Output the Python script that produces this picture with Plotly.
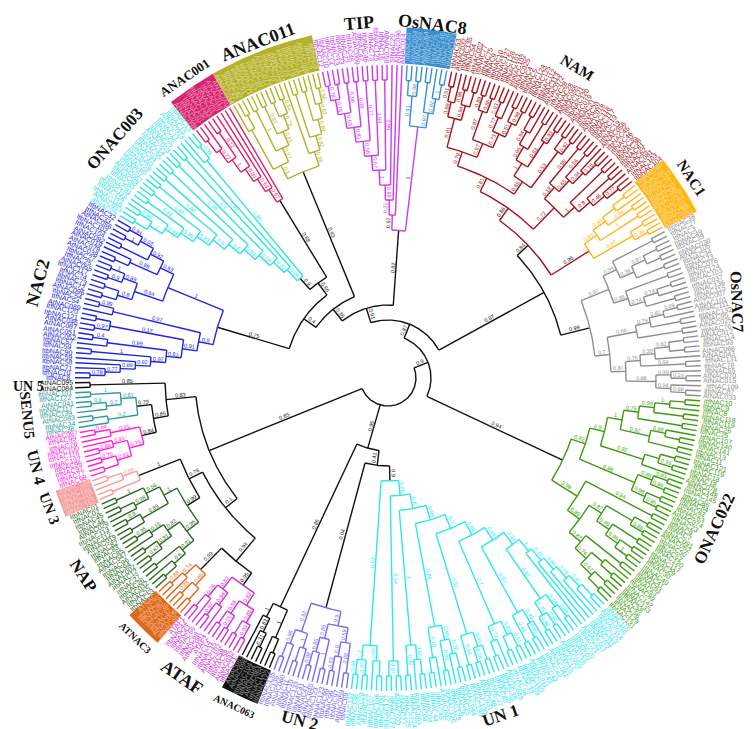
import math
from collections import defaultdict

import plotly.graph_objects as go

# ----------------------------------------------------------------
# DATA: clade colours and subtrees
# node = [support, child, child, ...]; a leaf is its name string
# ----------------------------------------------------------------

COLORS = {
    "UN 5": "#111111", "SENU5": "#2f9a9a", "UN 4": "#ff22dd", "UN 3": "#f59c9c",
    "NAP": "#2b6b1f", "ATNAC3": "#e0661a", "ATAF": "#d22fd2", "ANAC063": "#111111",
    "UN 2": "#7a6cf2", "UN 1": "#2ee8ee", "ONAC022": "#3c9c10", "OsNAC7": "#8f8f8f",
    "NAC1": "#ffb619", "NAM": "#a3151c", "OsNAC8": "#3a8fd0", "TIP": "#c93bf5",
    "ANAC011": "#b4b22a", "ANAC001": "#d8236f", "ONAC003": "#2fe3e3", "NAC2": "#2024e0",
}

UN5 = [0.85, "AtNAC095", "AtNAC084"]
SENU5 = [0.79, [0.81, [1, "ItbNAC101", "ItfNAC122"], [0.7, [0.9, "AtNAC041", "ItbNAC117"], "ItfNAC139"]],
         [0.2, [None, "AtNAC083", "ItbNAC34"], "ItfNAC38"]]
UN4 = [0.84, [0.91, [0.94, "AtNAC097", "ItfNAC99"], "ItfNAC78"],
       [0.75, [0.91, "ItfNAC100", [0.88, "ItfNAC116", "ItfNAC137"]],
        [0.91, [0.75, "ItfNAC96", "ItfNAC97"], [None, "ItfNAC77", "ItfNAC98"]]]]
UN3 = [1, [0.88, [None, "AtNAC104", "ItfNAC102"], "ItfNAC106"], [None, "ItfNAC105", "ItfNAC110"]]
NAP = [0.99,
       [1, [0.56, [1, "ItbNAC01", "ItfNAC02"], [0.98, [None, "ItbNAC45", "ItfNAC44"], "AtNAC029"]],
        [0.89, [0.9, "ItbNAC113", "ItfNAC112"], [None, "AtNAC019", "ItbNAC82"]]],
       [0.96, [0.82, [0.15, [0.95, "ItfNAC83", "ItbNAC85"], "AtNAC047"],
               [0.91, [None, "ItbNAC96", "ItfNAC94"], [0.67, "AtNAC002", "ItbNAC12"]]],
        [0.91, [None, "ItfNAC27", "ItbNAC26"], [0.6, "AtNAC032", [None, "ItfNAC55", "ItbNAC53"]]]]]
ATNAC3 = [0.99, [0.74, [0.88, "ATNAC3", "ItbNAC79"], "ItfNAC80"],
          [0.69, [0.88, "ItbNAC36", "ItfNAC37"], [None, "AtNAC006", "ItfNAC65"]]]
ATAF = [0.95, [0.82, [0.76, [None, "ATAF1", "ItbNAC44"], "ItfNAC43"], [0.84, [0.97, "ItbNAC66", "ItfNAC68"], "AtNAC081"]],
        [0.83, [0.56, [None, "ATAF2", "ItfNAC14"], [0.25, "ItbNAC15", "AtNAC102"]],
         [0.86, [None, "ItfNAC59", "ItbNAC58"], [0.93, "AtNAC032", "ItfNAC71"]]]]
ANAC063 = [0.85, [1, "ANAC063", [0.83, "AtNAC096", [0.31, "ItbNAC104", "ItfNAC104"]]],
           [1, "AtNAC061", [None, "ItfNAC120", "ItbNAC122"]]]
UN2 = [0.04, [0.92, [0.98, [None, "ItbNAC135", "ItfNAC136"], "AtNAC060"], [1, [None, "ItfNAC11", "ItbNAC10"], "ItfNAC133"]],
       [0.9, [0.85, [0.85, [0.98, "ItbNAC41", "ItfNAC41"], "AtNAC040"], [1, "ItfNAC123", "ItbNAC123"]],
        [0.59, [0.9, [0.93, "ItbNAC99", "ItfNAC99"], "ItbNAC97"], [0.88, "AtNAC059", "ItfNAC69"]]]]

UN1_A = [0.53, [1, [0.69, "ItbNAC137", "ItfNAC138"], [0.97, "AtNAC028", "ItbNAC24"]],
         [0.65, "ItfNAC107", [None, "ItbNAC106", "ItfNAC109"]]]
UN1_B = [0.54, [0.97, "ItbNAC127", "ItfNAC127"], [None, "AtNAC022", "ItbNAC22"]]
UN1_C = [1, [0.96, "ItfNAC125", "ItbNAC124"], [0.66, "AtNAC004", [None, "ItfNAC04", "ItbNAC04"]]]
UN1_D = [0.86, [0.78, [None, "ItbNAC44", "ItfNAC45"], "AtNAC042"],
         [0.99, [0.88, "ItbNAC126", "ItfNAC128"], [0.76, "ItfNAC26", [None, "ItbNAC25", "AtNAC044"]]]]
UN1_E = [0.97, [0.64, "ItbNAC130", "ItfNAC130"], [0.41, [0.36, "AtNAC031", "ItfNAC48"], [None, "ItbNAC47", "ItfNAC49"]]]
UN1_F = [0.7, [0.73, [None, "ItbNAC35", "ItfNAC36"], "AtNAC048"],
         [0.92, [None, "ItfNAC34", "ItbNAC33"], [0.61, "ItbNAC109", "ItfNAC110"]]]
UN1_G = [0.97, [0.45, "AtNAC011", "ItfNAC43"], [0.49, [0.85, "ItbNAC42", "ItfNAC42"], "AtNAC042"]]
UN1_H = [0.97, [0.75, [0.66, "ItbNAC16", "ItfNAC17"], [0.97, "AtNAC099", "ItbNAC18"]],
         [0.78, "ItfNAC19", [0.88, "ItbNAC20", "ItfNAC21"]]]
UN1_I = [1, "AtNAC057", [0.75, "ItfNAC112", [0.86, "ItbNAC111", [0.73, "ItfNAC113",
                                                                  [0.97, "ItbNAC114", [None, "AtNAC036", "ItfNAC115"]]]]]]
UN1 = [0.9, UN1_A, [0.76, UN1_B, [0.8, UN1_C, [0.99, UN1_D, [0.7, UN1_E, [0.98, UN1_F,
                                                                           [0.49, UN1_G, [0.99, UN1_H, UN1_I]]]]]]]]

G22_LOW = [0.98,
           [0.89,
            [0.82, [0.74, [0.67, [None, "ItbNAC131", "ItfNAC129"], [None, "ItbNAC56", "ItfNAC58"]],
                    [None, [None, "ItbNAC133", "ItfNAC142"], "ItbNAC89"]], [None, "ItfNAC63", "ItbNAC61"]],
            [0.87, [0.48, [0.96, [1, "ItfNAC41", "ItbNAC40"], [None, "ItfNAC30", "ItbNAC29"]], [None, "ItbNAC117", "ItfNAC120"]],
             [None, [0.88, "ItfNAC52", "ItbNAC50"], [None, "AtNAC062", "AtNAC091"]]]],
           [0.84, "ItbNAC7", "ItfNAC9"]]
G22_UP = [0.92,
          [0.88, [0.98, [0.95, "ItfNAC23", "AtNAC074"], [None, "ItbNAC63", "ItfNAC62"]],
           [0.88, [0.95, "ItbNAC84", "ItfNAC86"], [0.83, "ItbNAC145", "ItfNAC148"]]],
          [0.9, [0.82, "AtNAC078", [None, [0.95, "ItfNAC18", "ItbNAC18"], [None, "ItfNAC119", "ItbNAC121"]]],
           [1, [0.92, [None, "ItfNAC11", "ItbNAC13"], [0.89, [None, "ItfNAC141", "ItbNAC140"], "ItfNAC107"]],
            [0.75, [None, "ItfNAC25", "ItbNAC26"],
             [0.99, [None, "ItfNAC119", "ItbNAC118"], [1, "ItfNAC8", [None, "ItbNAC9", "ItfNAC10"]]]]]]]
ONAC022 = [0.94, G22_LOW, G22_UP]

OS7_B1 = [0.88, [0.94, [0.88, "AtNAC033", "ItbNAC87"], "ItfNAC109"], [0.99, [0.29, "AtNAC015", "AtNAC070"], "ItbNAC65"]]
OS7_B2 = [0.75, [0.94, "ItbNAC78", "ItfNAC131"],
          [0.39, "AtNAC043", [0.82, [None, "AtNAC066", "ItbNAC93"], [None, "ItfNAC114", "AtNAC012"]]]]
OS7_B3 = [0.66, [None, "ItbNAC76", "AtNAC025"],
          [0.79, [None, "ItfNAC95", "ItbNAC132"], [0.81, "ItfNAC111", [0.69, "AtNAC101", "AtNAC007"]]]]
OS7_B4 = [0.86, [0.74, [None, "ItfNAC115", "ItfNAC136"], [0.74, "ItfNAC037", [None, "ItbNAC103", "ItfNAC124"]]],
          [None, "ItfNAC076", "ItbNAC23"]]
OS7_B5 = [0.99, [0.39, [None, "ItbNAC34", "AtNAC105"], [0.87, [None, "ItbNAC030", "ItbNAC39"], [None, "ItbNAC49", "ItfNAC3"]]],
          [None, "ItfNAC27", "ItbNAC38"]]
OSNAC7 = [0.99, [0.7, [0.87, OS7_B1, OS7_B2], OS7_B3], [0.97, OS7_B4, OS7_B5]]

NAC1 = [0.96, [0.87, [0.98, "AtNAC031", "ItbNAC88"], [None, "ItfNAC93", "ItbNAC84"]],
        [0.81, [1, "AtNAC029", "ItfNAC56"],
         [0.86, [0.94, "ItbNAC55", "ItfNAC74"], [None, "ItbNAC147", [None, "ItfNAC98", "ItbNAC40"]]]]]

NAM_LOW = [0.72, [1, [0.8, [0.46, [0.77, "ItbNAC104", "ItfNAC103"], "AtNAC081"], [None, "ItfNAC62", "ItbNAC61"]],
                  [None, "ItbNAC36", "ItfNAC35"]],
           [0.18, [0.65, [0.94, [0.16, "ItfNAC46", "ItbNAC45"], "AtNAC056"], [0.56, "ItfNAC19", "ItbNAC19"]],
            [0.88, "ItbNAC117", "ItfNAC118"]]]
NAM_MID = [0.85, [0.53, [0.97, "AtNAC018", "ItbNAC20"], [None, "ItfNAC21", "AtNAC019"]],
           [1, [0.83, [0.93, "ItbNAC120", "ItfNAC121"], "AtNAC055"],
            [0.95, [None, "ItbNAC28", "ItfNAC28"], [0.94, "AtNAC072", [None, "ItfNAC113", "ItbNAC112"]]]]]
NAM_TOP = [0.79, [0.97, [0.73, [0.51, [0.98, "ItbNAC125", "ItfNAC124"], [None, "ItbNAC5", "ItfNAC4"]],
                         [0.77, "AtNAC025", [0.93, "ItbNAC102", "ItfNAC101"]]],
                  [0.97, [0.86, "ItfNAC126", "ItbNAC127"], [0.89, "ItbNAC10", "ItfNAC9"]]],
           [0.81, [0.94, [None, "ItfNAC75", "ItbNAC77"], [0.98, "AtNAC002", "ItfNAC54"]],
            [0.88, "ItbNAC135", [0.51, "AtNAC032", "ItbNAC53"]]]]
NAM = [0.86, NAM_LOW, [0.81, NAM_MID, NAM_TOP]]

OSNAC8 = [1, [0.97, [0.92, [1, "ItbNAC127", "ItfNAC126"], "ItfNAC146"], [None, "ItbNAC75", "ItfNAC75"]],
          [0.91, [0.98, "AtNAC064", "ItbNAC69"], [None, "AtNAC004", "ItfNAC40"]]]

TIP = [0.97, "ANAC014", [0.21, "AtNAC096", [0.88, "SlNAC29", [1, [0.99, "AtNAC058", "ItfNAC16"],
       [0.57, [0.94, "ItbNAC125", "ItfNAC73"], [0.58, [0.77, "ItbNAC46", "ItfNAC47"],
        [0.81, [0.08, "AtNAC009", "ItfNAC48"], [0.63, [0.96, "ItfNAC22", "ItbNAC23"],
         [0.76, [None, "ItbNAC13", "ItfNAC14"], [0.78, "ItbNAC10", "ItfNAC12"]]]]]]]]]]

ANAC011 = [0.93,
           [0.98, [0.82, [0.89, [0.83, [0.96, "ItbNAC6", "ItfNAC6"], "AtNAC089"], [None, "ItfNAC71", "ItbNAC70"]],
                   [None, "ItbNAC19", "ItfNAC20"]], "ANAC011"],
           [0.1, [0.07, [0.81, [0.75, [0.84, "ItbNAC73", "ItfNAC72"], [None, "AtNAC077", "ItbNAC31"]],
                         [0.97, "ItfNAC32", "ItbNAC92"]], [1, "AtNAC071", "ItfNAC91"]],
            [None, [None, "ItbNAC42", "ItfNAC42"], "AtNAC034"]]]

ANAC001 = [0.88, "ANAC001", [0.67, "AtNAC012", [0.63, "ItbNAC03", [0.84, "ItfNAC03",
           [1, [0.72, "ItbNAC133", "ItfNAC132"], [0.77, "ItbNAC01", [None, "ItfNAC01", "AtNAC098"]]]]]]]

ONAC003 = [0.9,
           [0.86, [0.98, "ItbNAC15", "ItfNAC15"], "AtNAC003"],
           [0.86, "ItfNAC17",
            [0.81, [0.93, "ItfNAC26", "ItbNAC27"],
             [0.69, [0.7, "AtNAC013", "ItbNAC14"],
              [0.83, [0.99, "ItbNAC95", "ItfNAC94"],
               [0.6, [None, "ItfNAC60", "ItbNAC59"],
                [0.9, [0.86, "ItbNAC66", "ItfNAC67"],
                 [0.83, [0.95, "AtNAC067", "ItbNAC68"],
                  [0.96, [0.88, "ItfNAC80", "ItbNAC81"],
                   [0.99, "ItbNAC115",
                    [1, [0.98, "ItfNAC116", "ItbNAC116"], [None, "AtNAC053", "ItfNAC29"]]]]]]]]]]]]

NAC2_TOP = [1, [0.83, [0.92, [0.03, [0.94, "ItbNAC32", "ItfNAC33"], [1, "AtNAC056", "ItbNAC102"]],
                       [None, "ItfNAC104", "AtNAC092"]], [0.99, "AtNAC019", [None, "AtNAC079", "AtNAC038"]]],
            [0.64, [0.89, [1, "ItbNAC27", "ItfNAC25"], [0.9, "AtNAC055", "ItfNAC117"]],
             [0.8, [None, "ItfNAC74", "ItbNAC73"], [None, "ItbNAC72", "AtNAC096"]]]]
NAC2_BOT = [0.8, [0.97, [0.99, "ItbNAC54", "ItfNAC54"], "AtNAC089"],
            [0.91, [0.17, [None, "ItfNAC120", "ItbNAC121"], [0.97, "AtNAC046", "AtNAC087"]],
             [0.81, [0.99, [0.4, "AtNAC051", "AtNAC052"], "ItbNAC57"],
              [0.97, [1, "ItfNAC59", "ItbNAC90"],
               [0.92, "ItbNAC59", [0.89, "ItbNAC58", [0.77, "ItbNAC71", [0.78, "ItfNAC70", "ItfNAC8"]]]]]]]]
NAC2 = [0.75, NAC2_TOP, NAC2_BOT]

CLADES = {
    "UN 5": UN5, "SENU5": SENU5, "UN 4": UN4, "UN 3": UN3, "NAP": NAP, "ATNAC3": ATNAC3,
    "ATAF": ATAF, "ANAC063": ANAC063, "UN 2": UN2, "UN 1": UN1, "ONAC022": ONAC022,
    "OsNAC7": OSNAC7, "NAC1": NAC1, "NAM": NAM, "OsNAC8": OSNAC8, "TIP": TIP,
    "ANAC011": ANAC011, "ANAC001": ANAC001, "ONAC003": ONAC003, "NAC2": NAC2,
}

# backbone joining the clades; a tuple node takes the colour of the named clade
BACKBONE = [None,
            [0.65,
             [0.83, "UN 5", [0.85, "SENU5", "UN 4"]],
             [0.1, [0.78, "UN 3", "NAP"], [0.94, "ATNAC3", "ATAF"]]],
            [0.95, "ANAC063", [0.42, "UN 2", "UN 1"]],
            [0.9, "ONAC022",
             [0.87,
              [0.87, "OsNAC7", ("NAM", 0.84, "NAC1", "NAM")],
              [0.91, ("TIP", 0.82, "OsNAC8", "TIP"),
               [0.38, "ANAC011", [0.4, [0.66, "ANAC001", "ONAC003"], "NAC2"]]]]]]

# clade titles: font size
TITLE_SIZE = {
    "TIP": 18, "OsNAC8": 18, "NAM": 15, "NAC1": 15, "OsNAC7": 16, "ONAC022": 17, "UN 1": 17,
    "UN 2": 17, "ANAC063": 10, "ATAF": 18, "ATNAC3": 10, "NAP": 17, "UN 3": 15, "UN 4": 16,
    "SENU5": 15, "UN 5": 14, "NAC2": 18, "ONAC003": 17, "ANAC001": 13, "ANAC011": 18,
}
# clades whose leaf names sit on a filled band
BANDED = ["ANAC001", "ANAC011", "OsNAC8", "NAC1", "ATNAC3", "ANAC063", "UN 3"]

# ----------------------------------------------------------------
# LAYOUT
# ----------------------------------------------------------------
W, H = 754, 729
CX, CY = 380, 370        # tree centre, page pixels
R_TIP = 313
R_ROOT = 28
THETA0 = 180.4           # start angle of the first leaf block (degrees)
FS_LEAF = 7
FS_SUP = 5.5
R_TITLE = 363
TITLE_R = {"TIP": 356, "OsNAC8": 357, "UN 2": 354, "UN 1": 356, "OsNAC7": 357, "ANAC011": 360,
           "UN 5": 360, "ONAC022": 360}
TITLE_ANGLE = {"UN 5": 0, "OsNAC7": 88}


def build(node, color=None, clade=None):
    if clade is None:
        if isinstance(node, str):
            return build(CLADES[node], COLORS[node], node)
        if isinstance(node, tuple):
            key, sup, *kids = node
            col = COLORS[key]
        else:
            sup, *kids = node
            col = "#111111"
        return {"sup": sup, "color": col, "clade": None, "kids": [build(k) for k in kids]}
    if isinstance(node, str):
        return {"name": node, "sup": None, "color": color, "clade": clade, "kids": []}
    sup, *kids = node
    return {"sup": sup, "color": color, "clade": clade, "kids": [build(k, color, clade) for k in kids]}


def walk(n):
    yield n
    for k in n["kids"]:
        yield from walk(k)


root = build(BACKBONE)
leaves = [n for n in walk(root) if not n["kids"]]
d_ang = 360.0 / len(leaves)
for i, lf in enumerate(leaves):
    lf["a"] = THETA0 + (i + 0.5) * d_ang


def settle(n):
    if not n["kids"]:
        n["h"] = 0
        return
    for k in n["kids"]:
        settle(k)
    n["h"] = 1 + max(k["h"] for k in n["kids"])
    n["a"] = 0.5 * (n["kids"][0]["a"] + n["kids"][-1]["a"])


settle(root)
for n in walk(root):
    n["r"] = R_TIP - (R_TIP - R_ROOT) * n["h"] / root["h"]


def pol(r, a):
    t = math.radians(a)
    return r * math.cos(t), r * math.sin(t)


def norm(a):
    return (a + 180.0) % 360.0 - 180.0


def radial_angle(a):
    """text angle (clockwise) for text running along the ray at angle a"""
    a = norm(a)
    return norm(-a if -90 <= a <= 90 else 180 - a)


def tangent_angle(a):
    a = norm(a)
    return norm(90 - a if a >= 0 else -90 - a)


def lighten(hex_color, f):
    h = hex_color.lstrip("#")
    rgb = [int(h[i:i + 2], 16) for i in (0, 2, 4)]
    return "#" + "".join(f"{int(c + (255 - c) * f):02x}" for c in rgb)


lines = defaultdict(lambda: ([], []))


def add_path(color, pts):
    xs, ys = lines[color]
    for x, y in pts:
        xs.append(x)
        ys.append(y)
    xs.append(None)
    ys.append(None)


annotations = []


def draw(n, parent):
    if parent is not None:
        add_path(parent["color"], [pol(parent["r"], n["a"]), pol(n["r"], n["a"])])
        if n["sup"] is not None:
            ta = radial_angle(n["a"])
            mx, my = pol(0.5 * (parent["r"] + n["r"]), n["a"])
            t = math.radians(ta)
            annotations.append(dict(
                x=mx + 3.4 * math.sin(t), y=my + 3.4 * math.cos(t), text=f"{n['sup']:g}",
                textangle=ta, showarrow=False, xanchor="center", yanchor="middle",
                font=dict(family="Liberation Sans, Arial", size=FS_SUP,
                          color=parent["color"] if parent["clade"] else "#222222")))
    if n["kids"]:
        a0, a1 = n["kids"][0]["a"], n["kids"][-1]["a"]
        m = max(2, int(abs(a1 - a0) / 0.4) + 2)
        add_path(n["color"], [pol(n["r"], a0 + (a1 - a0) * j / (m - 1)) for j in range(m)])
        for k in n["kids"]:
            draw(k, n)


draw(root, None)

fig = go.Figure()

# label bands
for key in BANDED:
    angs = [lf["a"] for lf in leaves if lf["clade"] == key]
    a0, a1 = min(angs) - d_ang / 2, max(angs) + d_ang / 2
    m = int((a1 - a0) / 0.3) + 2
    outer = [pol(R_TIP + 38, a0 + (a1 - a0) * j / (m - 1)) for j in range(m)]
    inner = [pol(R_TIP + 2, a1 - (a1 - a0) * j / (m - 1)) for j in range(m)]
    pts = outer + inner + [outer[0]]
    fig.add_trace(go.Scatter(x=[p[0] for p in pts], y=[p[1] for p in pts], mode="lines",
                             fill="toself", fillcolor=COLORS[key], line=dict(width=0),
                             hoverinfo="skip"))

for color, (xs, ys) in lines.items():
    fig.add_trace(go.Scatter(x=xs, y=ys, mode="lines", line=dict(color=color, width=1.4),
                             hoverinfo="skip"))

# leaf names
for lf in leaves:
    ta = radial_angle(lf["a"])
    est = len(lf["name"]) * FS_LEAF * 0.56
    x, y = pol(R_TIP + 3 + est / 2, lf["a"])
    col = COLORS[lf["clade"]]
    if lf["clade"] in BANDED:
        col = lighten(col, 0.55)
    annotations.append(dict(x=x, y=y, text=lf["name"], textangle=ta, showarrow=False,
                            xanchor="center", yanchor="middle",
                            font=dict(family="Liberation Sans, Arial", size=FS_LEAF, color=col)))

# clade titles
for key in CLADES:
    angs = [lf["a"] for lf in leaves if lf["clade"] == key]
    mid = 0.5 * (min(angs) + max(angs))
    x, y = pol(TITLE_R.get(key, R_TITLE), mid)
    ta = TITLE_ANGLE.get(key, tangent_angle(mid))
    annotations.append(dict(x=x, y=y, text=f"<b>{key}</b>", textangle=ta, showarrow=False,
                            xanchor="center", yanchor="middle",
                            font=dict(family="Liberation Serif, Times New Roman", size=TITLE_SIZE[key],
                                      color="#111111")))

fig.update_layout(
    width=W, height=H, margin=dict(l=0, r=0, t=0, b=0),
    paper_bgcolor="white", plot_bgcolor="white", showlegend=False,
    xaxis=dict(range=[-CX, W - CX], visible=False, fixedrange=True),
    yaxis=dict(range=[-(H - CY), CY], visible=False, fixedrange=True),
    annotations=annotations,
)

fig.write_html("out.html")
